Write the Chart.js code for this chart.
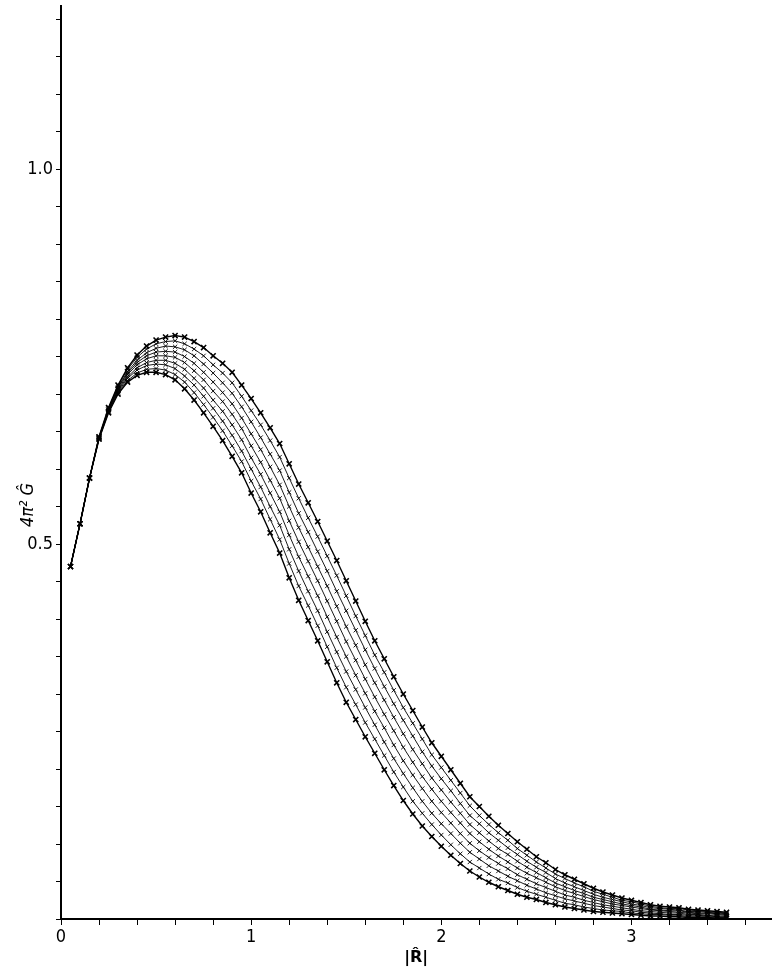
<!DOCTYPE html>
<html>
<head>
<meta charset="utf-8">
<script src="https://cdn.jsdelivr.net/npm/chart.js@4"></script>
<style>
  html, body { margin: 0; padding: 0; background: #fff; }
  #c { display: block; }
</style>
</head>
<body>
<canvas id="c" width="777" height="969"></canvas>
<script>
// |R| sample positions shared by every curve
const xValues = [0.05,0.10,0.15,0.20,0.25,0.30,0.35,0.40,0.45,0.50,
  0.55,0.60,0.65,0.70,0.75,0.80,0.85,0.90,0.95,1.00,
  1.05,1.10,1.15,1.20,1.25,1.30,1.35,1.40,1.45,1.50,
  1.55,1.60,1.65,1.70,1.75,1.80,1.85,1.90,1.95,2.00,
  2.05,2.10,2.15,2.20,2.25,2.30,2.35,2.40,2.45,2.50,
  2.55,2.60,2.65,2.70,2.75,2.80,2.85,2.90,2.95,3.00,
  3.05,3.10,3.15,3.20,3.25,3.30,3.35,3.40,3.45,3.50];

// family of curves, lowest (curve1) to highest (curve9)
const curve1 = [.470,.527,.588,.640,.675,.700,.716,.725,.729,.729,
  .726,.719,.707,.692,.675,.657,.638,.617,.595,.568,
  .543,.515,.488,.455,.425,.398,.371,.343,.315,.289,
  .266,.243,.221,.199,.178,.158,.140,.124,.110,.097,
  .085,.074,.064,.056,.049,.043,.038,.033,.029,.026,
  .022,.019,.016,.014,.012,.010,.009,.008,.007,.006,
  .005,.004,.004,.003,.003,.002,.002,.002,.001,.001];
const curve2 = [.470,.527,.588,.640,.676,.702,.718,.728,.733,.734,
  .732,.726,.716,.702,.686,.669,.651,.631,.610,.584,
  .560,.533,.506,.474,.444,.418,.391,.363,.335,.309,
  .286,.262,.240,.218,.196,.176,.157,.141,.126,.112,
  .099,.087,.076,.068,.060,.053,.048,.042,.037,.033,
  .029,.025,.021,.019,.016,.014,.012,.011,.010,.008,
  .007,.006,.006,.005,.005,.003,.003,.003,.002,.002];
const curve3 = [.470,.527,.588,.641,.677,.703,.721,.732,.738,.740,
  .739,.734,.724,.712,.697,.681,.664,.645,.624,.600,
  .576,.550,.525,.493,.464,.437,.411,.383,.356,.330,
  .306,.282,.259,.236,.214,.194,.175,.157,.141,.127,
  .114,.101,.089,.080,.071,.064,.057,.051,.045,.040,
  .035,.031,.027,.024,.021,.018,.016,.014,.012,.011,
  .009,.008,.007,.006,.006,.005,.005,.004,.003,.003];
const curve4 = [.470,.527,.588,.641,.678,.705,.723,.735,.742,.745,
  .745,.741,.733,.721,.708,.692,.677,.659,.639,.615,
  .593,.568,.543,.512,.483,.457,.431,.403,.376,.350,
  .325,.301,.277,.255,.232,.211,.192,.174,.157,.142,
  .128,.114,.101,.091,.082,.074,.067,.059,.053,.047,
  .042,.037,.032,.029,.025,.022,.019,.017,.015,.013,
  .011,.010,.009,.008,.008,.006,.006,.005,.004,.004];
const curve5 = [.470,.527,.588,.642,.679,.706,.726,.739,.747,.751,
  .751,.749,.742,.731,.719,.704,.690,.673,.654,.631,
  .609,.585,.561,.531,.503,.477,.451,.424,.397,.370,
  .345,.320,.296,.273,.251,.229,.209,.190,.173,.157,
  .142,.128,.114,.103,.093,.084,.076,.068,.061,.055,
  .049,.043,.038,.034,.030,.026,.023,.020,.018,.016,
  .014,.012,.011,.010,.009,.008,.007,.007,.006,.005];
const curve6 = [.470,.527,.588,.642,.679,.708,.728,.742,.751,.756,
  .757,.756,.750,.741,.729,.716,.702,.687,.668,.647,
  .626,.603,.579,.550,.522,.496,.470,.444,.417,.390,
  .365,.339,.315,.292,.269,.247,.226,.207,.188,.172,
  .156,.141,.126,.115,.104,.094,.086,.077,.069,.062,
  .055,.048,.043,.038,.034,.029,.026,.023,.020,.018,
  .016,.013,.012,.011,.011,.009,.008,.008,.007,.006];
const curve7 = [.470,.527,.588,.642,.680,.709,.730,.745,.755,.761,
  .764,.763,.759,.751,.740,.728,.715,.701,.683,.663,
  .642,.620,.598,.569,.541,.516,.490,.464,.437,.411,
  .385,.359,.334,.310,.287,.265,.244,.223,.204,.187,
  .171,.154,.138,.127,.115,.105,.095,.086,.077,.069,
  .062,.054,.048,.043,.038,.033,.029,.026,.023,.020,
  .018,.015,.014,.013,.012,.010,.010,.009,.008,.007];
const curve8 = [.470,.527,.588,.643,.681,.711,.733,.749,.760,.767,
  .770,.771,.767,.760,.751,.739,.728,.715,.697,.678,
  .659,.638,.616,.588,.561,.535,.510,.484,.458,.431,
  .404,.378,.352,.329,.305,.282,.261,.240,.219,.202,
  .185,.168,.151,.138,.126,.115,.105,.094,.085,.076,
  .068,.060,.054,.048,.043,.037,.033,.029,.025,.023,
  .020,.017,.015,.014,.014,.012,.011,.010,.009,.008];
const curve9 = [.470,.527,.588,.643,.682,.712,.735,.752,.764,.772,
  .776,.778,.776,.770,.762,.751,.741,.729,.712,.694,
  .675,.655,.634,.607,.580,.555,.530,.504,.478,.451,
  .424,.397,.371,.347,.323,.300,.278,.256,.235,.217,
  .199,.181,.163,.150,.137,.125,.114,.103,.093,.083,
  .075,.066,.059,.053,.047,.041,.036,.032,.028,.025,
  .022,.019,.017,.016,.015,.013,.012,.011,.010,.009];

const curves = [curve1, curve2, curve3, curve4, curve5, curve6, curve7, curve8, curve9];

// axis ticks
const xTickValues = [0,0.2,0.4,0.6,0.8,1,1.2,1.4,1.6,1.8,2,2.2,2.4,2.6,2.8,3,3.2,3.4,3.6];
const xTickLabels = ['0','','','','','1','','','','','2','','','','','3','','',''];
const yTickValues = [0,0.05,0.1,0.15,0.2,0.25,0.3,0.35,0.4,0.45,0.5,0.55,0.6,0.65,0.7,0.75,0.8,0.85,0.9,0.95,1,1.05,1.1,1.15,1.2];
const yTickLabels = ['','','','','','','','','','','0.5','','','','','','','','','','1.0','','','',''];

const xTitle = '|R\u0302|';
const yTitle = '4\u03C0\u00B2 G\u0302';

const tickFont = { family: "'DejaVu Sans Condensed','Liberation Sans Narrow','Liberation Sans',sans-serif", size: 18 };

const datasets = curves.map((ys, k) => {
  const edge = (k === 0 || k === curves.length - 1);
  return {
    data: xValues.map((x, i) => ({ x: x, y: ys[i] })),
    borderColor: '#000',
    backgroundColor: '#000',
    borderWidth: edge ? 1.4 : 0.9,
    pointStyle: 'crossRot',
    pointRadius: edge ? 3.6 : 3,
    pointBorderWidth: edge ? 1.6 : 0.9,
    pointBorderColor: '#000',
    tension: 0,
    fill: false
  };
});

const yTitlePlugin = {
  id: 'yTitlePlugin',
  afterDraw(chart) {
    const ctx = chart.ctx;
    ctx.save();
    ctx.translate(28, 505);
    ctx.rotate(-Math.PI / 2);
    ctx.fillStyle = '#000';
    ctx.font = "italic 18px 'DejaVu Sans Condensed','Liberation Sans Narrow',sans-serif";
    ctx.textAlign = 'center';
    ctx.textBaseline = 'middle';
    ctx.fillText(yTitle, 0, 0);
    ctx.restore();
  }
};

function zeroPad(s) {
  s.paddingLeft = 0; s.paddingRight = 0; s.paddingTop = 0; s.paddingBottom = 0;
}

new Chart(document.getElementById('c'), {
  type: 'scatter',
  data: { datasets },
  plugins: [yTitlePlugin],
  options: {
    responsive: false,
    animation: false,
    showLine: true,
    layout: { padding: { top: 5, right: 0, bottom: 0, left: 0 } },
    plugins: { legend: { display: false }, tooltip: { enabled: false } },
    scales: {
      x: {
        type: 'linear',
        min: 0,
        max: 3.736,
        afterFit: s => { s.height = 50; zeroPad(s); },
        afterBuildTicks: s => { s.ticks = xTickValues.map(v => ({ value: v })); },
        ticks: {
          autoSkip: false, maxRotation: 0, color: '#000', font: tickFont, padding: 2,
          callback: (v, i) => xTickLabels[i]
        },
        grid: { drawOnChartArea: false, drawTicks: true, tickLength: 6, color: '#000', lineWidth: 1 },
        border: { display: true, color: '#000', width: 2 },
        title: {
          display: true, text: xTitle, color: '#000',
          font: { family: "'DejaVu Sans','Liberation Sans',sans-serif", size: 16, weight: 'bold' },
          padding: { top: 0, bottom: 2 }
        }
      },
      y: {
        type: 'linear',
        min: 0,
        max: 1.218,
        afterFit: s => { s.width = 61; zeroPad(s); },
        afterBuildTicks: s => { s.ticks = yTickValues.map(v => ({ value: v })); },
        ticks: {
          autoSkip: false, color: '#000', font: tickFont, padding: 3,
          callback: (v, i) => yTickLabels[i]
        },
        grid: { drawOnChartArea: false, drawTicks: true, tickLength: 5, color: '#000', lineWidth: 1 },
        border: { display: true, color: '#000', width: 2 }
      }
    }
  }
});
</script>
</body>
</html>
